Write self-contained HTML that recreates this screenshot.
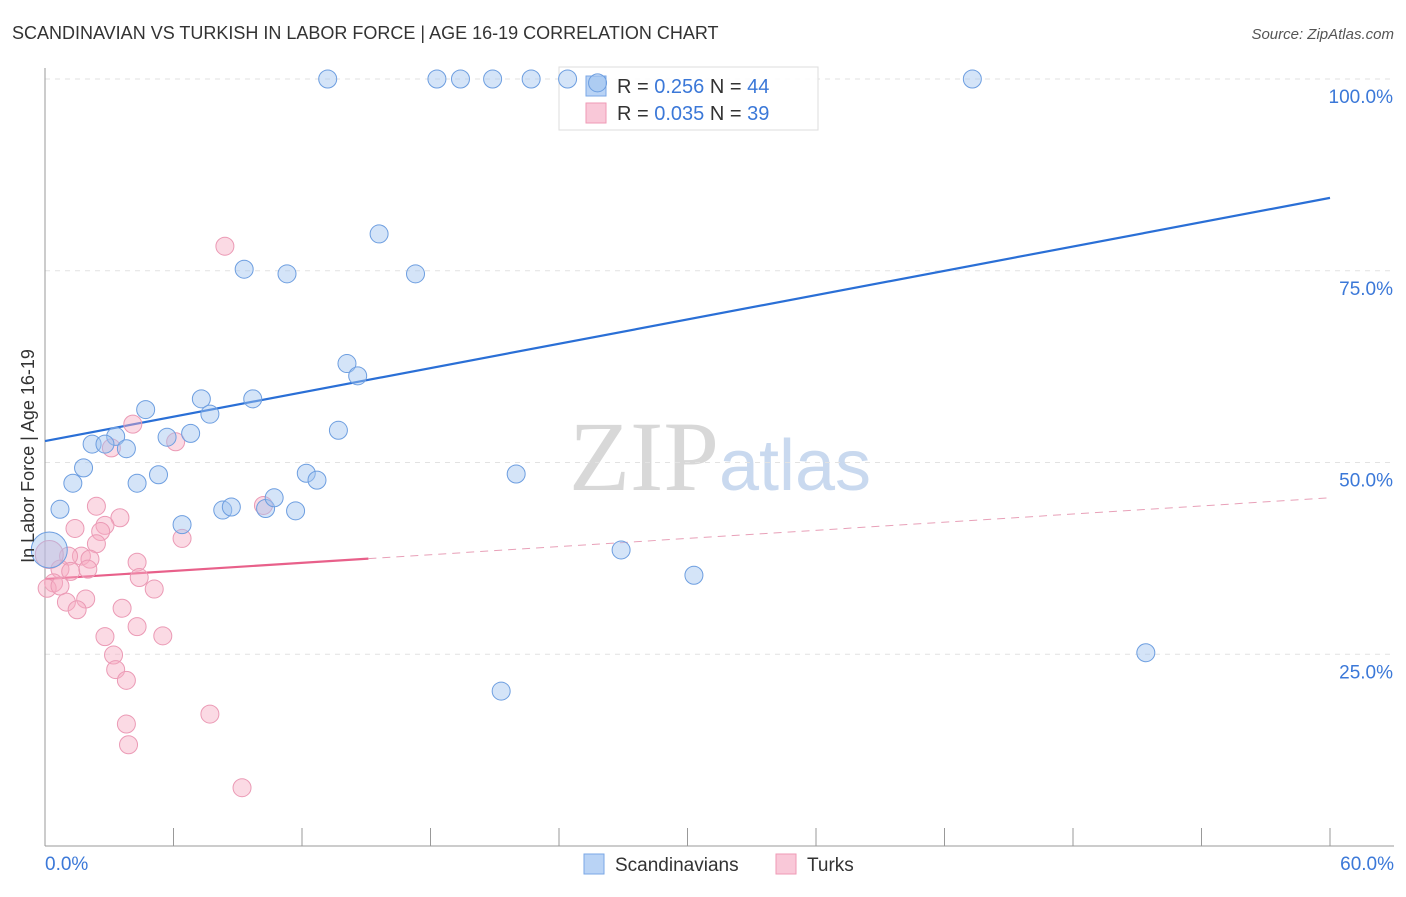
<!DOCTYPE html>
<html><head><meta charset="utf-8"><style>
body{margin:0;background:#fff;font-family:"Liberation Sans",sans-serif;}
svg text{font-family:"Liberation Sans",sans-serif;}
</style></head><body>
<svg id="chart" width="1406" height="892" xmlns="http://www.w3.org/2000/svg">
<text x="12" y="39" font-size="18" fill="#333">SCANDINAVIAN VS TURKISH IN LABOR FORCE | AGE 16-19 CORRELATION CHART</text>
<text x="1394" y="39" font-size="15" fill="#555" font-style="italic" text-anchor="end">Source: ZipAtlas.com</text>
<text x="720" y="490" font-size="100" fill="#ddd" text-anchor="middle" font-family="Liberation Serif"><tspan fill="#d8d8d8" font-family="Liberation Serif">ZIP</tspan><tspan fill="#c9d9ef" font-family="Liberation Sans" font-size="72">atlas</tspan></text>
<g id="grid"></g><g id="axes"></g><g id="lines"></g>
<g>
<rect x="559" y="67" width="259" height="63" fill="#fff" fill-opacity="0.85" stroke="#ddd"/>
<rect x="586" y="76" width="20" height="20" fill="#b9d3f5" stroke="#7aa7e6"/>
<rect x="586" y="103" width="20" height="20" fill="#f9c8d8" stroke="#ef9ab6"/>
<text x="617" y="93" font-size="20" fill="#333">R = <tspan fill="#3b78d8">0.256</tspan>   N = <tspan fill="#3b78d8">44</tspan></text>
<text x="617" y="120" font-size="20" fill="#333">R = <tspan fill="#3b78d8">0.035</tspan>   N = <tspan fill="#3b78d8">39</tspan></text>
</g>
<g id="pts"></g>
<text transform="translate(34,456) rotate(-90)" font-size="18" fill="#333" text-anchor="middle">In Labor Force | Age 16-19</text>
<g>
<rect x="584" y="854" width="20" height="20" fill="#b9d3f5" stroke="#7aa7e6"/>
<text x="615" y="871" font-size="19" fill="#333">Scandinavians</text>
<rect x="776" y="854" width="20" height="20" fill="#f9c8d8" stroke="#ef9ab6"/>
<text x="807" y="871" font-size="19" fill="#333">Turks</text>
</g>
</svg>
<script>
const blueX=[13.2,18.3,19.4,20.9,22.7,24.4,25.8,43.3,15.6,9.3,11.3,17.3,14.1,14.6,4.7,7.3,7.7,9.7,13.7,3.3,5.7,6.8,2.2,2.8,3.8,1.8,5.3,4.3,1.3,12.2,12.7,22.0,0.7,6.4,8.3,8.7,10.3,10.7,11.7,26.9,30.3,51.4,21.3,0.2];
const blueY=[100,100,100,100,100,100,99.5,100,79.8,75.2,74.6,74.6,62.9,61.3,56.9,58.3,56.3,58.3,54.2,53.4,53.3,53.8,52.4,52.4,51.8,49.3,48.4,47.3,47.3,48.6,47.7,48.5,43.9,41.9,43.8,44.2,44.0,45.4,43.7,38.6,35.3,25.2,20.2,38.6];
const blueR=[9,9,9,9,9,9,9,9,9,9,9,9,9,9,9,9,9,9,9,9,9,9,9,9,9,9,9,9,9,9,9,9,9,9,9,9,9,9,9,9,9,9,9,18];
const pinkX=[8.4,4.1,3.1,6.1,2.4,3.5,1.4,2.8,2.6,6.4,2.4,1.7,1.1,4.3,2.1,0.7,1.2,2.0,0.4,0.1,0.7,1.9,1.0,1.5,3.6,5.1,10.2,4.4,4.3,5.5,2.8,3.2,3.3,3.8,3.8,3.9,7.7,9.2,0.2];
const pinkY=[78.2,55.0,51.9,52.7,44.3,42.8,41.4,41.8,41.0,40.1,39.4,37.8,37.8,37.0,37.4,36.1,35.8,36.1,34.3,33.6,33.9,32.2,31.8,30.8,31.0,33.5,44.4,35.0,28.6,27.4,27.3,24.9,23.0,21.6,15.9,13.2,17.2,7.6,38.0];
const pinkR=[9,9,9,9,9,9,9,9,9,9,9,9,9,9,9,9,9,9,9,9,9,9,9,9,9,9,9,9,9,9,9,9,9,9,9,9,9,9,14];
const xTicks=[0,6,12,18,24,30,36,42,48,54,60];
const yTicks=[25,50,75,100];
const yTickLabels=["25.0%","50.0%","75.0%","100.0%"];
const blueTrend=[52.8,84.5];
const pinkTrend=[34.8,45.4];
const xs=v=>45+v*(1285/60);
const ys=v=>846-v*(767/100);
const NS="http://www.w3.org/2000/svg";
function mk(tag,attrs,parent){const e=document.createElementNS(NS,tag);for(const k in attrs)e.setAttribute(k,attrs[k]);document.getElementById(parent).appendChild(e);return e;}
yTicks.forEach((t,i)=>{
 const g=mk('line',{x1:45,x2:1394,y1:ys(t),y2:ys(t),stroke:'#e2e2e2','stroke-dasharray':'5,5'},'grid');
 
 
 const l=mk('text',{x:1393,y:ys(t)+24,'font-size':19,fill:'#3b78d8','text-anchor':'end'},'grid');
 l.textContent=yTickLabels[i];
 
 
});
const ax=mk('line',{x1:45,x2:45,y1:68,y2:846,stroke:'#999'},'axes');


const bx=mk('line',{x1:45,x2:1394,y1:846,y2:846,stroke:'#999'},'axes');


xTicks.forEach(t=>{
 const tk=mk('line',{x1:xs(t),x2:xs(t),y1:828,y2:846,stroke:'#999'},'axes');
 
 
});
const xl0=mk('text',{x:45,y:870,'font-size':19,fill:'#3b78d8'},'axes');xl0.textContent=xTicks[0].toFixed(1)+'%';


const xl1=mk('text',{x:1394,y:870,'font-size':19,fill:'#3b78d8','text-anchor':'end'},'axes');xl1.textContent=xTicks[xTicks.length-1].toFixed(1)+'%';


const bt=mk('line',{x1:xs(0),y1:ys(blueTrend[0]),x2:xs(60),y2:ys(blueTrend[1]),stroke:'#2a6fd6','stroke-width':2.2},'lines');


const pm=pinkTrend[0]+(pinkTrend[1]-pinkTrend[0])*(15.1/60);
const pt=mk('line',{x1:xs(0),y1:ys(pinkTrend[0]),x2:xs(15.1),y2:ys(pm),stroke:'#e8608a','stroke-width':2.2},'lines');


const pd=mk('line',{x1:xs(15.1),y1:ys(pm),x2:xs(60),y2:ys(pinkTrend[1]),stroke:'#e8a0b8','stroke-width':1,'stroke-dasharray':'8,6'},'lines');


pinkX.forEach((x,i)=>{
 const c=mk('circle',{cx:xs(x),cy:ys(pinkY[i]),r:pinkR[i],fill:'rgba(246,172,196,0.45)',stroke:'#eb9ab5','stroke-width':1},'pts');
 
 
});
blueX.forEach((x,i)=>{
 const c=mk('circle',{cx:xs(x),cy:ys(blueY[i]),r:blueR[i],fill:'rgba(160,196,240,0.45)',stroke:'#6d9ee0','stroke-width':1},'pts');
 
 
});
</script>
</body></html>
